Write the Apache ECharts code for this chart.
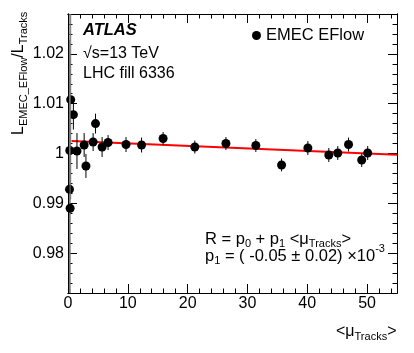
<!DOCTYPE html>
<html><head><meta charset="utf-8">
<script src="https://cdn.jsdelivr.net/npm/echarts@6/dist/echarts.min.js"></script>
<style>html,body{margin:0;padding:0;background:#fff}#c{width:414px;height:353px}</style>
</head><body><div id="c"></div>
<script>
// ---- data ----
const muValues    = [0.45, 0.9, 0.3, 1.5, 2.7, 3.0, 4.2, 4.6, 5.7, 6.7, 9.7, 12.3, 15.9, 21.2, 26.4, 31.4, 35.7, 40.1, 43.6, 45.1, 46.9, 49.1, 50.1, 0.25, 0.35];
const ratioValues = [1.0108, 1.0078, 1.0006, 1.0005, 1.0017, 0.9975, 1.0023, 1.0060, 1.0013, 1.0022, 1.0018, 1.0017, 1.0030, 1.0013, 1.0020, 1.0016, 0.9977, 1.0011, 0.9997, 1.0001, 1.0018, 0.9987, 1.0001, 0.9928, 0.9890];
const ratioErrors = [0.02, 0.003, 0.03, 0.0036, 0.0024, 0.0024, 0.0018, 0.0020, 0.0020, 0.0015, 0.0015, 0.0015, 0.0013, 0.0013, 0.0013, 0.0013, 0.0013, 0.0014, 0.0014, 0.0014, 0.0014, 0.0014, 0.0014, 0.03, 0.03];
const fitMu    = [0.6, 55];
const fitRatio = [1.0025, 0.99975];
const xMajorTicks = [0, 10, 20, 30, 40, 50];
const yMajorTicks = [0.98, 0.99, 1.00, 1.01, 1.02];
const seriesName = 'EMEC EFlow';

// ---- axis helpers ----
const X_MIN = 0, X_MAX = 55, Y_MIN = 0.972, Y_MAX = 1.028;
const xMinorTicks = [];
for (let i = 0; i <= 27; i++) { const v = i * 2; if (v % 10 !== 0) xMinorTicks.push(v); }
const yMinorTicks = [];
for (let i = 486; i <= 514; i++) { if (i % 5 !== 0) yMinorTicks.push(+(i * 0.002).toFixed(3)); }

const FONT = '"Liberation Sans", Arial, Helvetica, sans-serif';
const cv = document.createElement('canvas').getContext('2d');
function fontStr(size, weight, style) { return (style || 'normal') + ' ' + (weight || 'normal') + ' ' + size + 'px ' + FONT; }
function runs(parts, x0, y0) {
  // parts: [text, size, dy, weight, style]
  const els = []; let cx = x0;
  for (const p of parts) {
    const f = fontStr(p[1], p[3], p[4]);
    els.push({ type: 'text', x: cx, y: y0 + (p[2] || 0), silent: true,
      style: { text: p[0], font: f, fill: '#000', align: 'left', verticalAlign: 'middle', textAlign: 'left', textVerticalAlign: 'middle' } });
    cv.font = f; cx += cv.measureText(p[0]).width;
  }
  return els;
}

const data = muValues.map((m, i) => [m, ratioValues[i], ratioErrors[i]]);
const fitData = fitMu.map((m, i) => [m, fitRatio[i]]);

function mkX(pos, ticks, len, labels) {
  return { type: 'value', min: X_MIN, max: X_MAX, position: pos, gridIndex: 0,
    axisLine: { show: true, onZero: false, lineStyle: { color: '#000', width: 1 } },
    axisTick: { show: true, inside: true, length: len, customValues: ticks, lineStyle: { color: '#000', width: 1 } },
    axisLabel: labels ? { show: true, customValues: ticks, fontSize: 16, fontFamily: FONT, color: '#000', margin: 3 } : { show: false },
    splitLine: { show: false } };
}
function mkY(pos, ticks, len, labels) {
  return { type: 'value', min: Y_MIN, max: Y_MAX, position: pos, gridIndex: 0,
    axisLine: { show: true, onZero: false, lineStyle: { color: '#000', width: 1 } },
    axisTick: { show: true, inside: true, length: len, customValues: ticks, lineStyle: { color: '#000', width: 1 } },
    axisLabel: labels ? { show: true, customValues: ticks, fontSize: 16, fontFamily: FONT, color: '#000', margin: 4,
      formatter: v => parseFloat((+v).toFixed(3)).toString() } : { show: false },
    splitLine: { show: false } };
}

const graphics = [];
graphics.push(...runs([['ATLAS', 16.5, 0, 'bold', 'italic']], 83, 30.5));
graphics.push(...runs([['√s=13 TeV', 16, 0]], 83, 54));
graphics.push(...runs([['LHC fill 6336', 16, 0]], 83, 74));
graphics.push(...runs([['R = p', 16.5, 0], ['0', 11, 5], [' + p', 16.5, 0], ['1', 11, 5], [' <μ', 16.5, 0], ['Tracks', 11, 5], ['>', 16.5, 0]], 205, 239));
graphics.push(...runs([['p', 16.5, 0], ['1', 11, 5], [' = ( -0.05 ± 0.02) ×10', 16.5, 0], ['-3', 11, -7]], 205, 256));
graphics.push(...runs([['<μ', 16, 0], ['Tracks', 11, 5], ['>', 16, 0]], 336, 332));
// rotated y title
graphics.push({ type: 'group', x: 19, y: 135, rotation: Math.PI / 2,
  children: runs([['L', 16, 0], ['EMEC_EFlow', 11, 5], ['/L', 16, 0], ['Tracks', 11, 5]], 0, 0) });

const chart = echarts.init(document.getElementById('c'), null, { renderer: 'canvas' });
chart.setOption({
  animation: false,
  backgroundColor: '#fff',
  grid: { left: 68, right: 17, top: 14, bottom: 60 },
  legend: { show: true, data: [seriesName], left: 247, top: 22, icon: 'circle', itemWidth: 9, itemHeight: 9, itemGap: 0,
    textStyle: { fontSize: 16.5, fontFamily: FONT, color: '#000', padding: [0, 0, 0, 0] }, selectedMode: false },
  xAxis: [ mkX('bottom', xMajorTicks, 9, true), mkX('bottom', xMinorTicks, 4.5, false), mkX('top', xMajorTicks, 9, false), mkX('top', xMinorTicks, 4.5, false) ],
  yAxis: [ mkY('left', yMajorTicks, 9, true), mkY('left', yMinorTicks, 4.5, false), mkY('right', yMajorTicks, 9, false), mkY('right', yMinorTicks, 4.5, false) ],
  graphic: graphics,
  series: [
    { type: 'line', name: 'fit', data: fitData, xAxisIndex: 0, yAxisIndex: 0, symbol: 'none', z: 2,
      lineStyle: { color: '#ff0000', width: 2 }, silent: true },
    { type: 'custom', name: seriesName, data: data, xAxisIndex: 0, yAxisIndex: 0, z: 3,
      itemStyle: { color: '#000' },
      encode: { x: 0, y: 1 },
      renderItem: function (params, api) {
        const cs = params.coordSys;
        const x = api.value(0), y = api.value(1), e = api.value(2);
        const c = api.coord([x, y]);
        const t = api.coord([x, y + e]);
        const b = api.coord([x, y - e]);
        const y1 = Math.max(t[1], cs.y), y2 = Math.min(b[1], cs.y + cs.height);
        return { type: 'group', children: [
          { type: 'line', shape: { x1: c[0], y1: y1, x2: c[0], y2: y2 }, style: { stroke: e > 0.01 ? '#777' : '#000', lineWidth: 1 } },
          { type: 'circle', shape: { cx: c[0], cy: c[1], r: 4.5 }, style: { fill: '#000' } }
        ] };
      } }
  ]
});
</script>
</body></html>
